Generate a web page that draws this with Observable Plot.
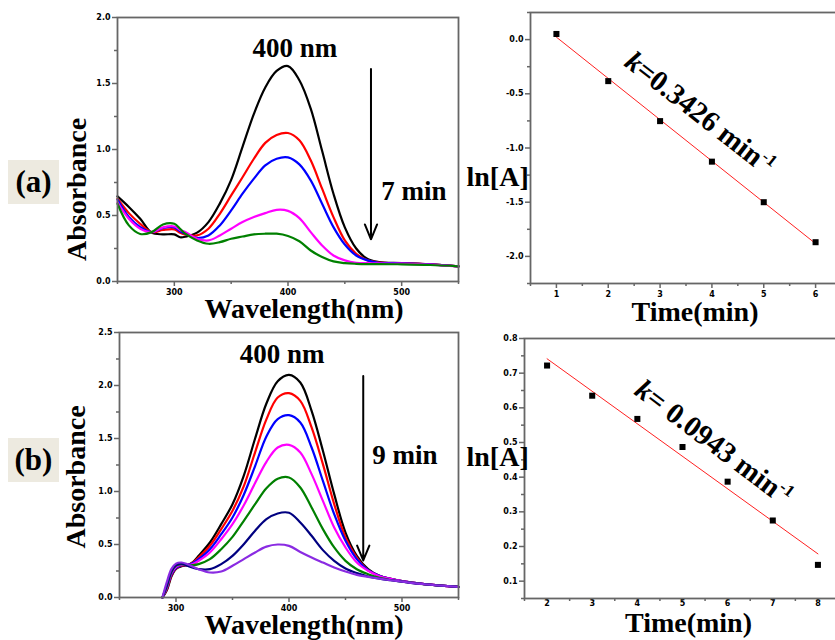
<!DOCTYPE html>
<html><head><meta charset="utf-8">
<script src="https://cdn.jsdelivr.net/npm/d3@7"></script>
<script src="https://cdn.jsdelivr.net/npm/@observablehq/plot@0.6"></script>
<style>
html,body{margin:0;padding:0;background:#fff;overflow:hidden}
#fig{position:relative;width:835px;height:640px;overflow:hidden;background:#fff}
.tag{position:absolute;width:51px;height:44px;background:#edeae0;font:bold 31px "Liberation Serif",serif;display:flex;align-items:center;justify-content:center;color:#000}
#fig svg{position:absolute}
</style></head><body><div id="fig">
<div class="tag" style="left:8px;top:160px">(a)</div>
<div class="tag" style="left:8px;top:438px">(b)</div>
</div>
<script>
// ---------- Panel (a) spectra ----------
const wlA = [250,260,270,280,290,300,305,310,320,330,340,350,360,370,380,390,400,410,420,430,440,450,460,470,480,500,525,550];
const aBlack   = [0.645,0.565,0.475,0.37,0.357,0.357,0.335,0.34,0.37,0.45,0.59,0.77,1.02,1.27,1.47,1.595,1.632,1.525,1.31,0.99,0.665,0.41,0.25,0.17,0.147,0.139,0.13,0.115];
const aRed     = [0.627,0.518,0.437,0.374,0.39,0.395,0.37,0.355,0.349,0.40,0.513,0.652,0.79,0.93,1.05,1.11,1.125,1.07,0.918,0.703,0.488,0.311,0.21,0.16,0.144,0.139,0.13,0.115];
const aBlue    = [0.62,0.488,0.412,0.374,0.405,0.41,0.38,0.36,0.33,0.349,0.425,0.539,0.665,0.779,0.88,0.93,0.94,0.887,0.766,0.589,0.412,0.28,0.197,0.16,0.142,0.138,0.13,0.115];
const aMagenta = [0.60,0.475,0.40,0.374,0.41,0.417,0.39,0.374,0.324,0.311,0.349,0.40,0.45,0.488,0.518,0.543,0.535,0.48,0.374,0.273,0.197,0.16,0.142,0.139,0.137,0.135,0.128,0.115];
const aGreen   = [0.589,0.425,0.36,0.374,0.432,0.437,0.40,0.36,0.311,0.286,0.298,0.324,0.341,0.357,0.362,0.362,0.345,0.305,0.235,0.185,0.152,0.139,0.134,0.132,0.132,0.13,0.125,0.115];
const namesA  = ["0 min","1","2","3","7 min"];
const colorsA = ["#000000","#ff0000","#0000ff","#ff00ff","#008000"];

// ---------- Panel (b) spectra ----------
const wlB = [288,292,296,300,305,310,315,320,330,340,350,360,370,380,390,400,410,420,430,440,450,460,470,480,490,500,520,550];
const bBlack   = [0,0.07,0.2,0.27,0.295,0.305,0.335,0.393,0.519,0.692,0.88,1.15,1.5,1.83,2.04,2.10,2.028,1.761,1.384,0.975,0.613,0.393,0.267,0.204,0.176,0.155,0.127,0.1];
const bRed     = [0,0.08,0.21,0.275,0.30,0.305,0.33,0.377,0.488,0.645,0.818,1.05,1.37,1.68,1.887,1.928,1.855,1.604,1.258,0.881,0.566,0.377,0.258,0.204,0.176,0.155,0.127,0.1];
const bBlue    = [0,0.09,0.22,0.28,0.305,0.305,0.325,0.362,0.456,0.597,0.755,0.97,1.24,1.52,1.683,1.72,1.651,1.415,1.1,0.786,0.535,0.362,0.258,0.204,0.176,0.155,0.127,0.1];
const bMagenta = [0,0.1,0.23,0.29,0.31,0.305,0.315,0.346,0.425,0.55,0.692,0.87,1.08,1.28,1.415,1.44,1.368,1.164,0.912,0.66,0.472,0.33,0.252,0.201,0.176,0.155,0.127,0.1];
const bGreen   = [0,0.11,0.24,0.30,0.315,0.305,0.305,0.315,0.362,0.456,0.572,0.724,0.88,1.03,1.12,1.132,1.038,0.849,0.645,0.472,0.346,0.267,0.22,0.185,0.165,0.15,0.125,0.1];
const bNavy    = [0,0.12,0.25,0.305,0.32,0.30,0.28,0.267,0.267,0.315,0.393,0.503,0.63,0.739,0.793,0.799,0.708,0.582,0.447,0.346,0.274,0.23,0.198,0.178,0.163,0.15,0.125,0.1];
const bPurple  = [0,0.15,0.27,0.32,0.33,0.314,0.29,0.267,0.236,0.245,0.299,0.362,0.425,0.48,0.50,0.487,0.43,0.378,0.33,0.283,0.245,0.214,0.195,0.178,0.163,0.15,0.125,0.1];
const namesB  = ["0 min","1","2","3","5","7","9 min"];
const colorsB = ["#000000","#ff0000","#0000ff","#ff00ff","#008000","#000080","#8a2be2"];

// ---------- Kinetics ----------
const timeA = [1,2,3,4,5,6];
const lnA_a = [0.052,-0.383,-0.752,-1.126,-1.50,-1.869];
const timeB = [2,3,4,5,6,7,8];
const lnA_b = [0.722,0.635,0.568,0.487,0.387,0.275,0.147];

// ---------- Tick values ----------
const wlTicks = [300,400,500], wlMinor = [250,350,450,550];
const absTicksA = [0,0.5,1,1.5,2], absMinorA = [0.25,0.75,1.25,1.75];
const absTicksB = [0,0.5,1,1.5,2,2.5], absMinorB = [0.25,0.75,1.25,1.75,2.25];
const tTicksA = [1,2,3,4,5,6], tMinorA = [0.5,1.5,2.5,3.5,4.5,5.5,6.5];
const lnTicksA = [-2,-1.5,-1,-0.5,0], lnMinorA = [-2.25,-1.75,-1.25,-0.75,-0.25,0.25];
const tTicksB = [2,3,4,5,6,7,8], tMinorB = [1.5,2.5,3.5,4.5,5.5,6.5,7.5,8.5];
const lnTicksB = [0.1,0.2,0.3,0.4,0.5,0.6,0.7,0.8], lnMinorB = [0.05,0.15,0.25,0.35,0.45,0.55,0.65,0.75];

function tidy(wl, names, arrays){const out=[];names.forEach((n,i)=>arrays[i].forEach((v,j)=>out.push({wl:wl[j],A:v,s:n})));return out;}
const f1 = d => d.toFixed(1);
const serif = {fontFamily:"Liberation Serif", fontWeight:"bold", fill:"#000"};
function axes(xMaj,xMin,yMaj,yMin,fx,fy,xTick=5,xPad=3){
  const c={stroke:"#666",strokeWidth:1.5,color:"#000",fontSize:8,fontWeight:"bold",fontFamily:"DejaVu Sans",label:null};
  return [
    Plot.axisX(xMin,{...c,tickSize:3,tickFormat:()=>""}),
    Plot.axisY(yMin,{...c,tickSize:3,tickFormat:()=>""}),
    Plot.axisX(xMaj,{...c,tickSize:xTick,tickPadding:xPad,tickFormat:fx}),
    Plot.axisY(yMaj,{...c,tickSize:5,tickPadding:2,tickFormat:fy})
  ];
}
const fig = document.getElementById("fig");
function place(p,l,t){p.style.left=l+"px";p.style.top=t+"px";p.style.background="transparent";p.style.overflow="visible";p.style.maxWidth="none";fig.appendChild(p);return p;}
function addK(p,x,y,ang,rest){
  const X=p.scale("x").apply(x), Y=p.scale("y").apply(y);
  const t=d3.select(p).append("text").attr("transform",`translate(${X},${Y}) rotate(${ang})`)
    .attr("text-anchor","middle").attr("dy","0.32em").attr("font-family","Liberation Serif")
    .attr("font-weight","bold").attr("font-size",29).attr("fill","#000");
  t.append("tspan").attr("font-style","italic").text("k");
  t.append("tspan").text(rest);
  t.append("tspan").attr("font-size",17).attr("dy",-11).text("-1");
}

// ---------- (a) left ----------
const specA = tidy(wlA,namesA,[aBlack,aRed,aBlue,aMagenta,aGreen]);
const pAL = Plot.plot({
  width:470,height:330,marginLeft:117,marginRight:12,marginTop:17,marginBottom:49,
  x:{domain:[250,550]}, y:{domain:[0,2]},
  color:{domain:namesA,range:colorsA},
  marks:[
    ...axes(wlTicks,wlMinor,absTicksA,absMinorA,d=>String(d),f1),
    Plot.line(specA,{x:"wl",y:"A",z:"s",stroke:"s",strokeWidth:2.2,curve:"catmull-rom"}),
    Plot.frame({stroke:"#666",strokeWidth:1.8}),
    Plot.arrow([{x:473,y1:1.61,y2:0.32}],{x1:"x",x2:"x",y1:"y1",y2:"y2",stroke:"#000",strokeWidth:2,headLength:12,headAngle:45}),
    Plot.text([{x:406,y:1.70,t:"400 nm"}],{x:"x",y:"y",text:"t",lineAnchor:"bottom",fontSize:27,...serif}),
    Plot.text([{x:482,y:0.62,t:"7 min"}],{x:"x",y:"y",text:"t",textAnchor:"start",lineAnchor:"bottom",fontSize:27,...serif}),
    Plot.text(["Absorbance"],{text:d=>d,frameAnchor:"left",textAnchor:"middle",rotate:-90,dx:-40,dy:40,fontSize:28,...serif}),
    Plot.text(["Wavelength(nm)"],{text:d=>d,frameAnchor:"bottom",lineAnchor:"bottom",dx:16,dy:36,fontSize:28,...serif})
  ]
});
place(pAL,0,0);

// ---------- (b) left ----------
const specB = tidy(wlB,namesB,[bBlack,bRed,bBlue,bMagenta,bGreen,bNavy,bPurple]);
const pBL = Plot.plot({
  width:470,height:320,marginLeft:119,marginRight:12,marginTop:12,marginBottom:43,
  x:{domain:[250,550]}, y:{domain:[0,2.5]},
  color:{domain:namesB,range:colorsB},
  marks:[
    ...axes(wlTicks,wlMinor,absTicksB,absMinorB,d=>String(d),f1),
    Plot.line(specB,{x:"wl",y:"A",z:"s",stroke:"s",strokeWidth:2.2,curve:"catmull-rom"}),
    Plot.frame({stroke:"#666",strokeWidth:1.8}),
    Plot.arrow([{x:465.7,y1:2.09,y2:0.35}],{x1:"x",x2:"x",y1:"y1",y2:"y2",stroke:"#000",strokeWidth:2,headLength:12,headAngle:45}),
    Plot.text([{x:394,y:2.21,t:"400 nm"}],{x:"x",y:"y",text:"t",lineAnchor:"bottom",fontSize:27,...serif}),
    Plot.text([{x:473.7,y:1.258,t:"9 min"}],{x:"x",y:"y",text:"t",textAnchor:"start",lineAnchor:"bottom",fontSize:27,...serif}),
    Plot.text(["Absorbance"],{text:d=>d,frameAnchor:"left",textAnchor:"middle",rotate:-90,dx:-43,dy:12,fontSize:28,...serif}),
    Plot.text(["Wavelength(nm)"],{text:d=>d,frameAnchor:"bottom",lineAnchor:"bottom",dx:15,dy:36,fontSize:28,...serif})
  ]
});
place(pBL,0,320);

// ---------- (a) right ----------
const ptsA = timeA.map((t,i)=>({t,v:lnA_a[i]}));
const pAR = Plot.plot({
  width:410,height:330,marginLeft:90,marginRight:9,marginTop:12,marginBottom:47,
  x:{domain:[0.5,6.5]}, y:{domain:[-2.25,0.25]},
  marks:[
    ...axes(tTicksA,tMinorA,lnTicksA,lnMinorA,d=>String(d),f1),
    Plot.linearRegressionY(ptsA,{x:"t",y:"v",stroke:"#ff2020",strokeWidth:1,ci:0}),
    Plot.dot(ptsA,{x:"t",y:"v",symbol:"square",r:3.4,fill:"#000"}),
    Plot.frame({stroke:"#666",strokeWidth:1.8}),
    Plot.text(["ln[A]"],{text:d=>d,frameAnchor:"left",textAnchor:"start",lineAnchor:"bottom",dx:-64,dy:38,fontSize:28,...serif}),
    Plot.text(["Time(min)"],{text:d=>d,frameAnchor:"bottom",lineAnchor:"bottom",dx:9,dy:37,fontSize:28,...serif})
  ]
});
place(pAR,440,0);
addK(pAR,3.775,-0.684,38,"=0.3426 min");

// ---------- (b) right ----------
const ptsB = timeB.map((t,i)=>({t,v:lnA_b[i]}));
const pBR = Plot.plot({
  width:410,height:320,marginLeft:84,marginRight:10,marginTop:18,marginBottom:42,
  x:{domain:[1.5,8.5]}, y:{domain:[0.05,0.8]},
  marks:[
    ...axes(tTicksB,tMinorB,lnTicksB,lnMinorB,d=>String(d),f1,3,-1),
    Plot.linearRegressionY(ptsB,{x:"t",y:"v",stroke:"#ff2020",strokeWidth:1,ci:0}),
    Plot.dot(ptsB,{x:"t",y:"v",symbol:"square",r:3.4,fill:"#000"}),
    Plot.frame({stroke:"#666",strokeWidth:1.8}),
    Plot.text(["ln[A]"],{text:d=>d,frameAnchor:"left",textAnchor:"start",lineAnchor:"bottom",dx:-58,dy:-3,fontSize:28,...serif}),
    Plot.text(["Time(min)"],{text:d=>d,frameAnchor:"bottom",lineAnchor:"bottom",dx:6,dy:33,fontSize:28,...serif})
  ]
});
place(pBR,440,320);
addK(pBR,5.70,0.498,37,"= 0.0943 min");
</script>
</body></html>
